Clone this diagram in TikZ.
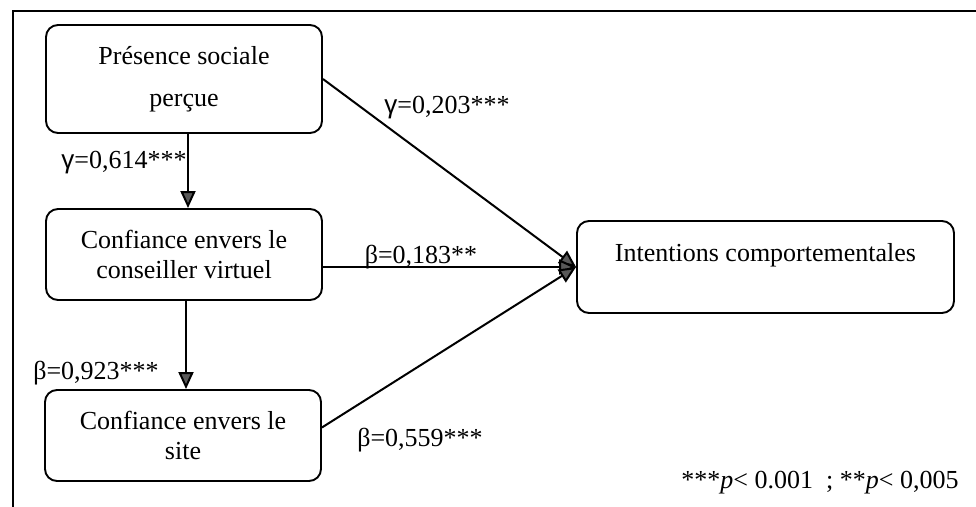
\documentclass[tikz,border=0pt]{standalone}
\usepackage{fontspec}
\setmainfont{Liberation Serif}
\newfontfamily\gammafont{Liberation Sans}
\usetikzlibrary{arrows.meta}

\begin{document}
\begin{tikzpicture}[
    x=0.5pt, y=-0.5pt,
    every node/.style={font=\fontsize{13}{15}\selectfont},
    construct/.style={rectangle, draw, line width=0.95pt, rounded corners=6pt, minimum width=138pt, minimum height=#1, align=center, inner sep=0pt},
    effect/.style={line width=1pt, -{Triangle[width=7.5pt, length=8.5pt, fill=black!65]}},
    coef/.style={inner sep=0pt},
    frame/.style={line width=0.8pt}
]
\useasboundingbox (0,0) rectangle (976,507);

% Frame (cut at the right and bottom)
\draw[frame] (13,507) -- (13,11) -- (976,11);

% Constructs
\node[construct=54pt] (pres) at (184,79) {Présence sociale\\[6pt]perçue};
\node[construct=45.5pt] (confc) at (184,254.5) {Confiance envers le\\conseiller virtuel};
\node[construct=45.5pt] (confs) at (183,435.5) {Confiance envers le\\site};
\node[construct=46pt, minimum width=188.5pt] (intent) at (765.5,267) {Intentions comportementales\\\mbox{}};

% Paths
\draw[effect] ([xshift=2pt]pres.south) -- ([xshift=2pt]pres.south |- confc.north);
\draw[effect] ([xshift=1pt]confc.south) -- ([xshift=1pt]confc.south |- confs.north);
\draw[effect] (pres.east) -- (intent.west);
\draw[effect] (confc.east |- intent.west) -- (intent.west);
\draw[effect] ([yshift=4pt]confs.east) -- (intent.west);

% Coefficients
\node[coef] (g1) at (447,108) {{\gammafont γ}=0,203***};
\node[coef] (g2) at (124,163) {{\gammafont γ}=0,614***};
\node[coef] (b1) at (421,257) {β=0,183**};
\node[coef] (b2) at (96,373) {β=0,923***};
\node[coef] (b3) at (420,440) {β=0,559***};

% Significance note
\node[coef] (note) at (820,483) {***\textit{p}< 0.001 \ ; **\textit{p}< 0,005};

\end{tikzpicture}
\end{document}
